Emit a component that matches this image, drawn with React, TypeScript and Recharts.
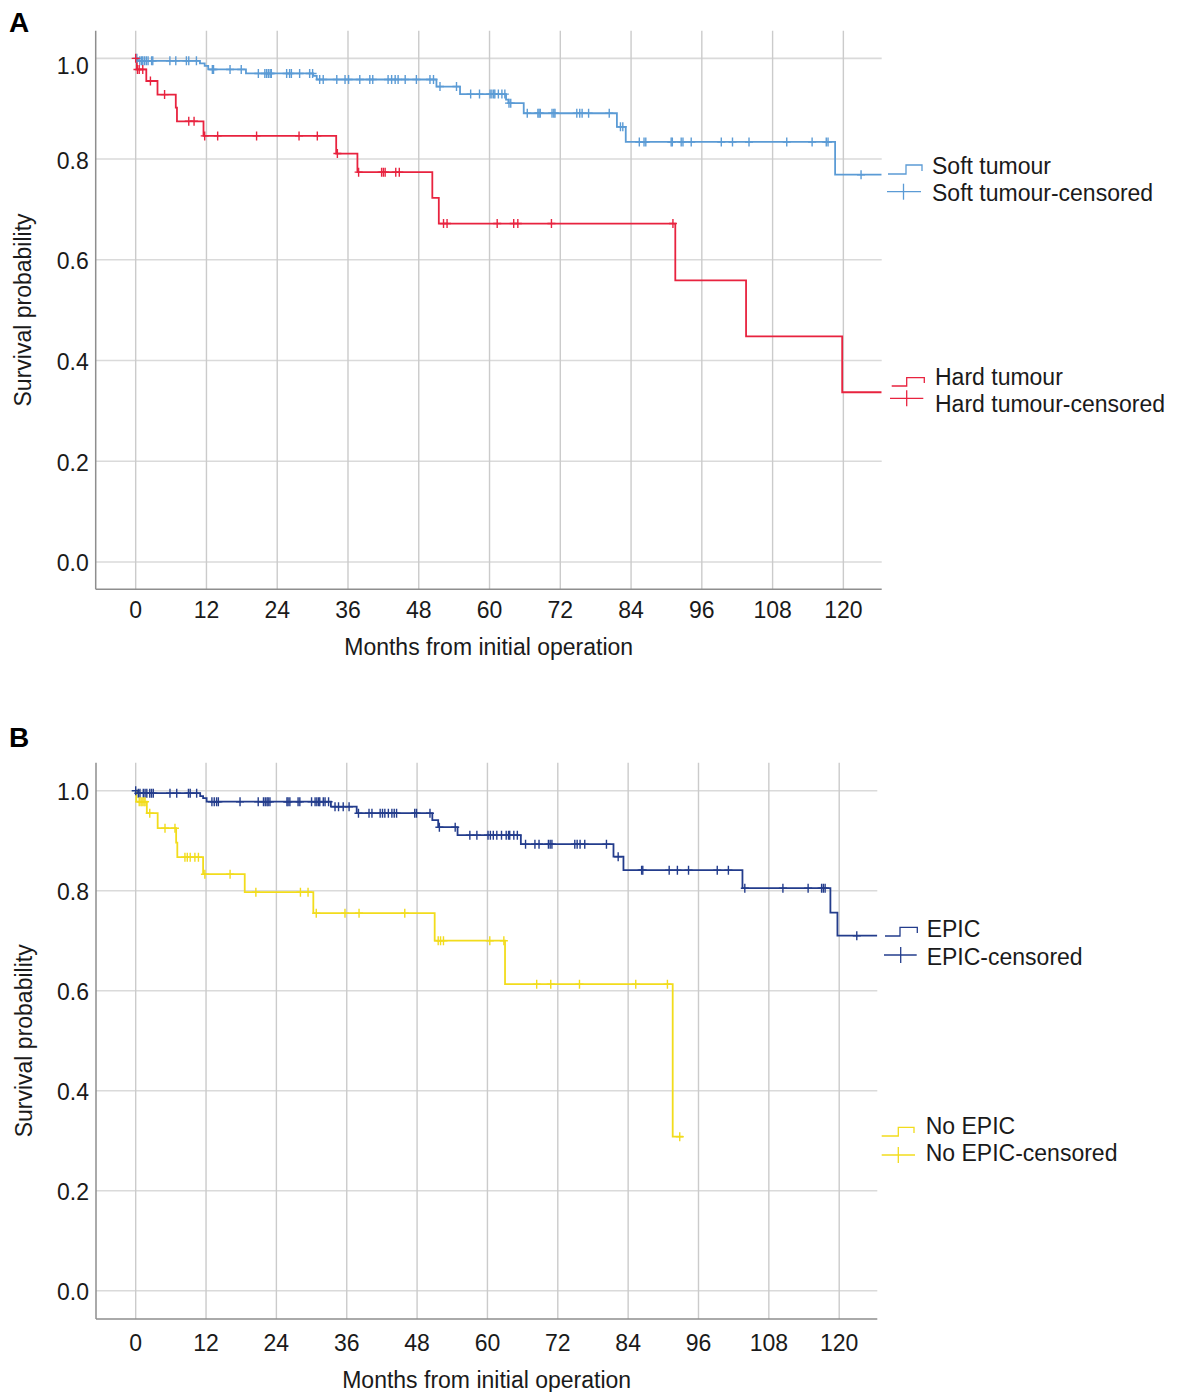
import React from "react";
import { ComposedChart, Line, Scatter, XAxis, YAxis, CartesianGrid } from "recharts";

// ---- Panel A: soft vs hard tumour (event times in months, survival after the event)
const softTimes = [0, 0.4, 10.9, 11.7, 12.3, 18.7, 30.1, 30.7, 51.0, 55.0, 62.8, 63.2, 65.8, 81.6, 83.1, 118.6];
const softSurv = [1.0, 0.995, 0.99, 0.985, 0.978, 0.97, 0.965, 0.958, 0.944, 0.929, 0.918, 0.911, 0.891, 0.864, 0.834, 0.769];
const softEnd = 126.5;
const softCensored = [
  0.2, 0.7, 1.0, 1.2, 1.5, 1.8, 2.1, 2.7, 2.9, 5.8, 6.8, 8.6, 9.0, 10.3,
  13.0, 13.2, 16.0, 17.9,
  20.8, 21.9, 22.2, 22.5, 22.8, 23.0, 25.6, 26.1, 26.4, 27.8, 29.5, 30.0,
  31.2, 31.8, 34.1, 35.5, 36.1, 38.0, 39.7, 40.2, 42.8, 43.4, 44.0, 44.5, 45.7, 47.6, 49.9, 50.5,
  51.6, 54.4, 56.8, 58.3, 60.1, 60.4, 60.7, 60.9, 61.5, 62.1, 62.6, 63.3, 63.6,
  66.4, 68.2, 68.4, 68.6, 70.6, 70.9, 71.1, 74.8, 75.3, 75.7, 76.8, 80.3, 82.2, 82.6,
  85.4, 86.2, 86.5, 90.8, 91.0, 92.5, 92.8, 94.2, 99.3, 101.2, 104.0, 110.4, 114.7, 117.1, 117.4,
  123.0,
];

const hardTimes = [0, 0.2, 1.8, 3.7, 6.8, 7.0, 11.5, 34.0, 37.6, 50.3, 51.4, 91.5, 103.5, 119.8];
const hardSurv = [1.0, 0.978, 0.955, 0.928, 0.902, 0.875, 0.846, 0.811, 0.774, 0.723, 0.672, 0.559, 0.448, 0.337];
const hardEnd = 126.5;
const hardCensored = [
  0.0, 0.3, 0.6, 1.2, 2.5, 4.9, 9.0, 9.9, 11.7, 13.9, 20.5, 27.7, 30.8, 34.2,
  37.8, 41.7, 42.0, 42.3, 44.1, 44.7, 52.2, 52.8, 61.3, 64.1, 64.8, 70.5, 91.1,
];

// ---- Panel B: EPIC vs no EPIC
const epicTimes = [0, 0.2, 11.0, 11.5, 12.1, 33.3, 37.7, 50.6, 51.6, 54.9, 65.7, 81.5, 83.2, 103.5, 118.5, 119.7];
const epicSurv = [1.0, 0.995, 0.989, 0.985, 0.978, 0.968, 0.955, 0.941, 0.927, 0.911, 0.893, 0.868, 0.841, 0.805, 0.756, 0.71];
const epicEnd = 126.5;
const epicCensored = [
  0.0, 0.45, 0.73, 1.3, 1.6, 1.9, 2.4, 2.7, 3.0, 5.85, 7.0, 9.0, 9.3, 10.4,
  13.0, 13.4, 13.8, 14.1, 17.8, 20.9, 21.8, 22.1, 22.4, 22.6, 22.9, 25.8, 26.0, 26.3, 27.7, 28.0,
  30.0, 30.6, 30.9, 31.2, 31.4, 32.0, 32.3, 32.9, 34.0, 34.6, 35.4, 36.4,
  38.0, 39.8, 40.3, 41.7, 42.1, 42.5, 43.1, 43.7, 44.1, 44.5, 47.6, 47.9, 50.2, 51.8, 54.5,
  57.0, 58.2, 60.1, 60.5, 61.0, 61.6, 62.4, 63.2, 63.6, 63.8, 64.5, 65.1,
  66.5, 68.1, 68.8, 70.4, 70.7, 71.0, 74.9, 75.3, 75.8, 76.6, 80.3, 82.3,
  86.3, 86.5, 91.0, 92.4, 94.3, 99.2, 101.1, 103.9, 110.4, 114.7, 117.0, 117.3, 117.6, 123.0,
];

const noEpicTimes = [0, 0.1, 1.9, 3.75, 6.9, 7.1, 11.5, 18.6, 30.3, 51.0, 63.0, 91.6];
const noEpicSurv = [1.0, 0.978, 0.955, 0.925, 0.896, 0.867, 0.833, 0.797, 0.755, 0.7, 0.613, 0.308];
const noEpicEnd = 93.4;
const noEpicCensored = [
  0.6, 0.9, 1.1, 1.4, 1.6, 2.4, 5.0, 6.7, 8.4, 8.8, 9.3, 10.1, 10.7, 11.8, 16.1,
  20.5, 28.1, 29.4, 30.8, 35.7, 38.1, 45.9, 51.6, 52.0, 52.5, 60.4, 62.8,
  68.4, 70.8, 75.7, 85.3, 90.7, 92.8,
];

const monthTicks = [0, 12, 24, 36, 48, 60, 72, 84, 96, 108, 120];
const probTicks = [0, 0.2, 0.4, 0.6, 0.8, 1.0];

const SOFT = "#5b9bd5";
const HARD = "#e8233f";
const EPIC = "#233c8c";
const NOEPIC = "#f2dc1c";
const TEXT = "#1a1a1a";
const FONT = "'Liberation Sans', Arial, Helvetica, sans-serif";

function stepPoints(times: number[], surv: number[], end: number) {
  const pts = times.map((t, i) => ({ t, s: surv[i] }));
  pts.push({ t: end, s: surv[surv.length - 1] });
  return pts;
}

// censor mark sits on the curve at its time
function censorPoints(censored: number[], times: number[], surv: number[]) {
  return censored.map((t) => {
    let s = surv[0];
    for (let i = 0; i < times.length; i++) if (times[i] <= t) s = surv[i];
    return { t, s };
  });
}

const crossShape = (color: string) => (props: any) => {
  const { cx, cy } = props;
  return (
    <g stroke={color} strokeWidth={1.4}>
      <line x1={cx - 4} x2={cx + 4} y1={cy} y2={cy} />
      <line x1={cx} x2={cx} y1={cy - 4.5} y2={cy + 4.5} />
    </g>
  );
};

const makeYTick = (topShift: number) => (props: any) => {
  const { x, y, payload } = props;
  const v = payload.value as number;
  return (
    <text x={x} y={y} dy={v === 1 ? 9 + topShift : 9.5} textAnchor="end" fontSize={23} fill={TEXT}>
      {v.toFixed(1)}
    </text>
  );
};

type Series = { times: number[]; surv: number[]; end: number; censored: number[]; color: string };

function Panel(p: {
  top: number;
  height: number;
  margin: { top: number; right: number; bottom: number; left: number };
  xDomain: [number, number];
  yDomain: [number, number];
  tickMargin: number;
  xLabelOffset: number;
  topShift: number;
  series: Series[];
}) {
  const axisLine = { stroke: "#8e8e8e", strokeWidth: 1.5 };
  return (
    <div style={{ position: "absolute", left: 0, top: p.top }}>
      <ComposedChart width={1179} height={p.height} margin={p.margin}>
        <CartesianGrid vertical={false} syncWithTicks stroke="#dadada" strokeWidth={1.6} />
        <CartesianGrid horizontal={false} syncWithTicks stroke="#cbcbcb" strokeWidth={1.4} />
        <XAxis
          type="number"
          dataKey="t"
          domain={p.xDomain}
          allowDataOverflow
          ticks={monthTicks}
          interval={0}
          tickLine={false}
          tickSize={0}
          tickMargin={p.tickMargin}
          axisLine={axisLine}
          tick={{ fontSize: 23, fill: TEXT }}
          height={80}
          label={{
            value: "Months from initial operation",
            position: "insideBottom",
            offset: p.xLabelOffset,
            style: { fontSize: 23, fill: TEXT },
          }}
        />
        <YAxis
          type="number"
          dataKey="s"
          domain={p.yDomain}
          allowDataOverflow
          ticks={probTicks}
          interval={0}
          tickLine={false}
          tickSize={0}
          tickMargin={7}
          width={90}
          axisLine={axisLine}
          tick={makeYTick(p.topShift)}
          label={{
            value: "Survival probability",
            angle: -90,
            position: "insideLeft",
            offset: 17.6,
            style: { fontSize: 23, fill: TEXT, textAnchor: "middle" },
          }}
        />
        {p.series.map((s, i) => (
          <Line
            key={"l" + i}
            data={stepPoints(s.times, s.surv, s.end)}
            dataKey="s"
            type="stepAfter"
            stroke={s.color}
            strokeWidth={1.8}
            dot={false}
            activeDot={false}
            isAnimationActive={false}
          />
        ))}
        {p.series.map((s, i) => (
          <Scatter
            key={"c" + i}
            data={censorPoints(s.censored, s.times, s.surv)}
            shape={crossShape(s.color)}
            isAnimationActive={false}
          />
        ))}
      </ComposedChart>
    </div>
  );
}

function StepIcon({ x0, x1, x2, yLow, yHigh, color }: any) {
  return (
    <path
      d={`M${x0},${yLow} H${x1} V${yHigh} H${x2} V${yLow - 3}`}
      fill="none"
      stroke={color}
      strokeWidth={1.3}
    />
  );
}

function CrossIcon({ xl, xr, xc, y, color }: any) {
  return (
    <g stroke={color} strokeWidth={1.3}>
      <line x1={xl} x2={xr} y1={y} y2={y} />
      <line x1={xc} x2={xc} y1={y - 8} y2={y + 8} />
    </g>
  );
}

export default function App() {
  return (
    <div
      style={{
        position: "absolute",
        left: 0,
        top: 0,
        width: 1179,
        height: 1392,
        overflow: "hidden",
        background: "#fff",
        fontFamily: FONT,
      }}
    >
      <Panel
        top={0}
        height={680}
        margin={{ top: 30.7, right: 297.3, bottom: 10.7, left: 5.7 }}
        xDomain={[-6.78, 126.5]}
        yDomain={[-0.0543, 1.0549]}
        tickMargin={12}
        xLabelOffset={14.5}
        topShift={6.5}
        series={[
          { times: softTimes, surv: softSurv, end: softEnd, censored: softCensored, color: SOFT },
          { times: hardTimes, surv: hardSurv, end: hardEnd, censored: hardCensored, color: HARD },
        ]}
      />
      <Panel
        top={700}
        height={700}
        margin={{ top: 62.7, right: 301.7, bottom: 1, left: 6 }}
        xDomain={[-6.77, 126.5]}
        yDomain={[-0.0566, 1.056]}
        tickMargin={15.5}
        xLabelOffset={11}
        topShift={0.5}
        series={[
          { times: epicTimes, surv: epicSurv, end: epicEnd, censored: epicCensored, color: EPIC },
          { times: noEpicTimes, surv: noEpicSurv, end: noEpicEnd, censored: noEpicCensored, color: NOEPIC },
        ]}
      />
      <svg
        width={1179}
        height={1392}
        style={{ position: "absolute", left: 0, top: 0, pointerEvents: "none" }}
        fontFamily={FONT}
      >
        <text x={9} y={32.3} fontSize={28} fontWeight="bold" fill="#000">A</text>
        <text x={9} y={747} fontSize={28} fontWeight="bold" fill="#000">B</text>

        <StepIcon x0={888} x1={906} x2={922} yLow={174} yHigh={165} color={SOFT} />
        <text x={932} y={174} fontSize={23} fill={TEXT}>Soft tumour</text>
        <CrossIcon xl={887} xr={921} xc={903.5} y={191.7} color={SOFT} />
        <text x={932} y={200.7} fontSize={23} fill={TEXT}>Soft tumour-censored</text>

        <StepIcon x0={891.7} x1={906.7} x2={924.3} yLow={386} yHigh={377.7} color={HARD} />
        <text x={935} y={385} fontSize={23} fill={TEXT}>Hard tumour</text>
        <CrossIcon xl={890} xr={923.3} xc={906.7} y={398.3} color={HARD} />
        <text x={935} y={411.7} fontSize={23} fill={TEXT}>Hard tumour-censored</text>

        <StepIcon x0={885} x1={900} x2={917.3} yLow={936} yHigh={927.3} color={EPIC} />
        <text x={926.7} y={937.3} fontSize={23} fill={TEXT}>EPIC</text>
        <CrossIcon xl={884} xr={916.7} xc={900.7} y={955} color={EPIC} />
        <text x={926.7} y={965} fontSize={23} fill={TEXT}>EPIC-censored</text>

        <StepIcon x0={881.7} x1={898.3} x2={914} yLow={1136} yHigh={1127.3} color={NOEPIC} />
        <text x={925.7} y={1134} fontSize={23} fill={TEXT}>No EPIC</text>
        <CrossIcon xl={881.7} xr={915} xc={898.3} y={1155} color={NOEPIC} />
        <text x={925.7} y={1160.7} fontSize={23} fill={TEXT}>No EPIC-censored</text>
      </svg>
    </div>
  );
}
